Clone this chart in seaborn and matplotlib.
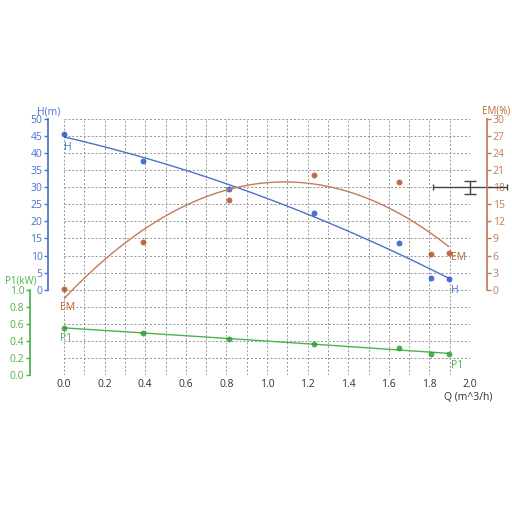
import numpy as np
import matplotlib
matplotlib.use("Agg")
import matplotlib.pyplot as plt
import seaborn as sns

# measured pump points
Q = [0.0, 0.39, 0.815, 1.23, 1.65, 1.81, 1.895]
H = [45.6, 37.8, 29.4, 22.4, 13.6, 3.4, 3.1]
EM = [0.1, 8.4, 15.7, 20.1, 19.0, 6.3, 6.4]
P1 = [0.556, 0.49, 0.42, 0.36, 0.32, 0.25, 0.25]

# axis ticks
q_ticks = [0.0, 0.2, 0.4, 0.6, 0.8, 1.0, 1.2, 1.4, 1.6, 1.8, 2.0]
h_ticks = [0, 5, 10, 15, 20, 25, 30, 35, 40, 45, 50]
em_ticks = [0, 3, 6, 9, 12, 15, 18, 21, 24, 27, 30]
p1_ticks = [0.0, 0.2, 0.4, 0.6, 0.8, 1.0]

# cursor marker on the right
cursor_q, cursor_em = 2.0, 18.0
cursor_qerr, cursor_emerr = 0.18, 1.15

c_h_pt, c_h_ln = "#1c4ecc", "#4a72c8"
c_em_pt, c_em_ln, c_em_tx = "#b4461c", "#c27a5a", "#c0642e"
c_p1_pt, c_p1_ln = "#2a9a2a", "#4cb44c"

sns.set_theme(style="white")
plt.rcParams["font.family"] = ["Open Sans", "DejaVu Sans"]
plt.rcParams["font.size"] = 7

fig = plt.figure(figsize=(5.12, 5.12), dpi=100)
ax = fig.add_axes([64 / 512, 1 - 375 / 512, 406 / 512, 256 / 512])
ax_p1 = ax.twinx()
ax_em = ax.twinx()

pts = dict(s=18, clip_on=False, zorder=4, linewidths=0)

# H curve
sns.regplot(x=Q, y=H, order=2, ci=None, ax=ax, truncate=True,
            scatter_kws=dict(color=c_h_pt, **pts),
            line_kws=dict(color=c_h_ln, lw=1))
# EM curve
sns.regplot(x=Q, y=EM, order=2, ci=None, ax=ax_em, truncate=True,
            scatter_kws=dict(color=c_em_pt, **pts),
            line_kws=dict(color=c_em_ln, lw=1))
# P1 curve
sns.regplot(x=Q, y=P1, order=2, ci=None, ax=ax_p1, truncate=True,
            scatter_kws=dict(color=c_p1_pt, **pts),
            line_kws=dict(color=c_p1_ln, lw=1))

ax_em.errorbar(cursor_q, cursor_em, xerr=cursor_qerr, color="#444444", lw=1,
               capsize=2, clip_on=False)
ax_em.errorbar(cursor_q, cursor_em, yerr=cursor_emerr, color="#444444", lw=1,
               capsize=4.5, clip_on=False)

for a in (ax, ax_p1, ax_em):
    a.set_xlim(0, 2.0)
    a.set_xlabel("")
    a.set_ylabel("")
    for s in a.spines.values():
        s.set_visible(False)

ax.set_ylim(-25, 50)
ax_p1.set_ylim(0, 3.0)
ax_em.set_ylim(-15, 30)

# grid
ax.set_xticks(q_ticks)
ax.set_xticks(np.arange(0, 2.01, 0.1), minor=True)
ax.set_yticks(h_ticks)
ax.set_yticks(np.arange(-25, 51, 5), minor=True)
ax.grid(which="both", color="#959595", ls=(0, (2, 2)), lw=0.7)
ax.tick_params(axis="x", which="both", length=0, pad=3, labelcolor="#333333", labelsize=7.5)
ax.tick_params(axis="y", which="minor", length=0)
ax.set_xticklabels([f"{t:.1f}" for t in q_ticks])

# H axis
ax.spines["left"].set_visible(True)
ax.spines["left"].set_position(("axes", -16 / 406))
ax.spines["left"].set_bounds(0, 50)
ax.spines["left"].set_color(c_h_ln)
ax.tick_params(axis="y", which="major", direction="out", length=3, width=1,
               color=c_h_ln, labelcolor=c_h_ln, labelsize=7.5, pad=1, left=True)

# P1 axis
ax_p1.yaxis.set_ticks_position("left")
ax_p1.yaxis.set_label_position("left")
ax_p1.spines["left"].set_visible(True)
ax_p1.spines["left"].set_position(("axes", -34 / 406))
ax_p1.spines["left"].set_bounds(0, 1.0)
ax_p1.spines["left"].set_color(c_p1_ln)
ax_p1.set_yticks(p1_ticks)
ax_p1.set_yticklabels([f"{t:.1f}" for t in p1_ticks])
ax_p1.tick_params(axis="y", direction="out", length=3, width=1,
                  color=c_p1_ln, labelcolor=c_p1_ln, labelsize=7.5, pad=1)

# EM axis
ax_em.spines["right"].set_visible(True)
ax_em.spines["right"].set_position(("axes", 1 + 17 / 406))
ax_em.spines["right"].set_bounds(0, 30)
ax_em.spines["right"].set_color(c_em_ln)
ax_em.set_yticks(em_ticks)
ax_em.tick_params(axis="y", direction="out", length=3, width=1,
                  color=c_em_ln, labelcolor=c_em_ln, labelsize=7.5, pad=1)

for a in (ax_p1, ax_em):
    a.tick_params(axis="x", which="both", length=0, labelbottom=False)

# curve end labels
ax.annotate("H", (Q[0], H[0]), xytext=(0, -8), textcoords="offset pixels",
            ha="left", va="top", color=c_h_ln, fontsize=7.5)
ax.annotate("H", (Q[-1], H[-1]), xytext=(2, -6), textcoords="offset pixels",
            ha="left", va="top", color=c_h_ln, fontsize=7.5)
ax_em.annotate("EM", (Q[0], EM[0]), xytext=(-4, -13), textcoords="offset pixels",
               ha="left", va="top", color=c_em_tx, fontsize=7.5)
ax_em.annotate("EM", (Q[-1], EM[-1]), xytext=(2, -4), textcoords="offset pixels",
               ha="left", va="center", color=c_em_tx, fontsize=7.5)
ax_p1.annotate("P1", (Q[0], P1[0]), xytext=(-4, -5), textcoords="offset pixels",
               ha="left", va="top", color=c_p1_ln, fontsize=7.5)
ax_p1.annotate("P1", (Q[-1], P1[-1]), xytext=(2, -6), textcoords="offset pixels",
               ha="left", va="top", color=c_p1_ln, fontsize=7.5)

# axis titles
fig.text(49 / 512, 1 - 112 / 512, "H(m)", ha="center", va="center", color=c_h_ln, fontsize=7.5)
fig.text(496 / 512, 1 - 111 / 512, "EM(%)", ha="center", va="center", color=c_em_tx, fontsize=7)
fig.text(21 / 512, 1 - 281 / 512, "P1(kW)", ha="center", va="center", color=c_p1_ln, fontsize=7)
fig.text(468 / 512, 1 - 397 / 512, "Q (m^3/h)", ha="center", va="center", color="#333333", fontsize=7.5)

fig.savefig("out.png", dpi=100)
